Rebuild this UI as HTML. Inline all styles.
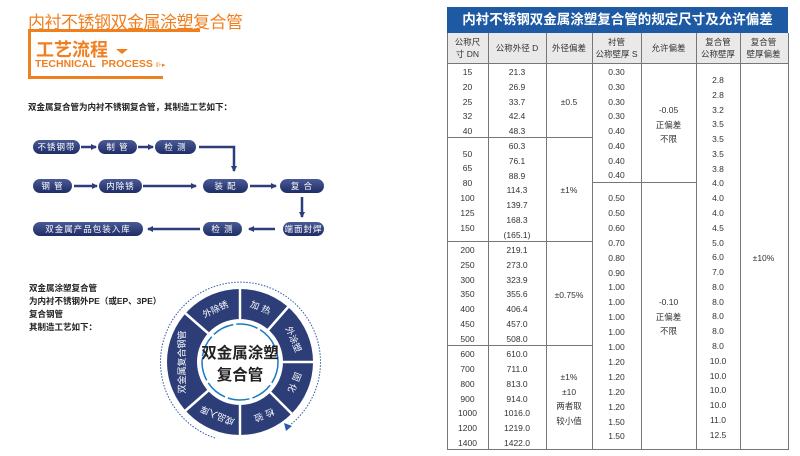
<!DOCTYPE html>
<html><head><meta charset="utf-8"><style>
body{margin:0;width:800px;height:456px;background:#fff;position:relative;overflow:hidden;font-family:"Liberation Sans","Noto Sans CJK SC",sans-serif}
.a{position:absolute;white-space:nowrap}
.pill{position:absolute;height:14px;border-radius:7px;background:linear-gradient(#4a5a95,#1f2d66);color:#fff;font-size:8.5px;line-height:14px;text-align:center;letter-spacing:1px}
.t{position:absolute;font-size:8.5px;color:#333;text-align:center;transform:translateY(-50%)}
.vl{position:absolute;width:1px;background:#777}
.hl{position:absolute;height:1px;background:#777}
</style></head><body>
<div class="a" style="left:28px;top:8px;font-size:17px;color:#f07f1f;letter-spacing:-0.5px">内衬不锈钢双金属涂塑复合管</div>
<div class="a" style="left:28px;top:29px;width:172px;height:3px;background:#f07f1f"></div>
<div class="a" style="left:28px;top:29px;width:3px;height:50px;background:#f07f1f"></div>
<div class="a" style="left:28px;top:76px;width:135px;height:3px;background:#f07f1f"></div>
<div class="a" style="left:36px;top:36px;font-size:18px;font-weight:bold;color:#f07f1f">工艺流程</div>
<div class="a" style="left:116px;top:49px;width:0;height:0;border-left:6px solid transparent;border-right:6px solid transparent;border-top:5px solid #f07f1f"></div>
<div class="a" style="left:35px;top:58px;font-size:10.5px;font-weight:bold;color:#f07f1f">TECHNICAL&nbsp; PROCESS <span style="font-size:7px;font-weight:normal">⊪▸</span></div>
<div class="a" style="left:28px;top:101px;font-size:8.5px;font-weight:bold;color:#222">双金属复合管为内衬不锈钢复合管，其制造工艺如下：</div>

<div class="pill" style="left:33px;top:140px;width:47px">不锈钢带</div>
<div class="pill" style="left:98px;top:140px;width:39px">制 管</div>
<div class="pill" style="left:155px;top:140px;width:41px">检 测</div>
<div class="pill" style="left:33px;top:179px;width:39px">钢 管</div>
<div class="pill" style="left:99px;top:179px;width:43px">内除锈</div>
<div class="pill" style="left:203px;top:179px;width:45px">装 配</div>
<div class="pill" style="left:280px;top:179px;width:44px">复 合</div>
<div class="pill" style="left:33px;top:222px;width:110px">双金属产品包装入库</div>
<div class="pill" style="left:203px;top:222px;width:39px">检 测</div>
<div class="pill" style="left:283px;top:222px;width:41px">端面封焊</div>

<svg class="a" style="left:0;top:0" width="440" height="456">
<defs><marker id="m" markerWidth="6" markerHeight="6" refX="5" refY="3" orient="auto" markerUnits="userSpaceOnUse"><path d="M0,0L6,3L0,6z" fill="#2c3d7a"/></marker></defs>
<g stroke="#2c3d7a" stroke-width="2.5" fill="none" marker-end="url(#m)">
<line x1="81" y1="147" x2="96" y2="147"/>
<line x1="138" y1="147" x2="153" y2="147"/>
<polyline points="199,147 234,147 234,171"/>
<line x1="74" y1="186" x2="97" y2="186"/>
<line x1="143" y1="186" x2="196" y2="186"/>
<line x1="250" y1="186" x2="276" y2="186"/>
<line x1="302" y1="197" x2="302" y2="217"/>
<line x1="275" y1="229" x2="249" y2="229"/>
<line x1="200" y1="229" x2="148" y2="229"/>
</g>
<g transform="translate(240,362)">
<path d="M-25,76 A80,80 0 1 1 50,63" fill="none" stroke="#2a5aa8" stroke-width="1" stroke-dasharray="1.5,1.5"/>
<path d="M44,61 L52,64 L46,69z" fill="#2a5aa8"/>
<circle r="73" fill="#2c3d78"/>
<circle r="43" fill="#fff"/>
<circle r="38" fill="none" stroke="#1a7ac0" stroke-width="1.5" stroke-dasharray="22,3"/>
<g stroke="#fff" stroke-width="2.5">
<line x1="0" y1="-42" x2="0" y2="-74"/>
<line x1="28" y1="-32" x2="49" y2="-56"/>
<line x1="42" y1="0" x2="74" y2="0"/>
<line x1="30" y1="30" x2="53" y2="53"/>
<line x1="0" y1="42" x2="0" y2="74"/>
<line x1="-31" y1="28" x2="-55" y2="49"/>
<line x1="-31" y1="-28" x2="-55" y2="-49"/>
</g>
<g fill="#fff" font-size="9" text-anchor="middle" font-family="Liberation Sans,Noto Sans CJK SC,sans-serif">
<text transform="rotate(-25) translate(0,-55)">外除锈</text>
<text transform="rotate(22) translate(0,-55)" letter-spacing="3">加热</text>
<text transform="rotate(67) translate(0,-55)">外涂塑</text>
<text transform="rotate(112) translate(0,-55)" letter-spacing="3">固化</text>
<text transform="rotate(157) translate(0,-55)" letter-spacing="3">检验</text>
<text transform="rotate(203) translate(0,-55)">成品入库</text>
<text transform="rotate(-90) translate(0,-55)">双金属复合钢管</text>
</g>
<text x="0" y="-4" text-anchor="middle" font-size="15.5" font-weight="bold" fill="#222" font-family="Liberation Sans,Noto Sans CJK SC,sans-serif">双金属涂塑</text>
<text x="0" y="18" text-anchor="middle" font-size="15.5" font-weight="bold" fill="#222" font-family="Liberation Sans,Noto Sans CJK SC,sans-serif">复合管</text>
</g>
</svg>
<div class="a" style="left:29px;top:282px;font-size:8.5px;font-weight:bold;color:#222;line-height:13px">双金属涂塑复合管<br>为内衬不锈钢外PE（或EP、3PE）<br>复合钢管<br>其制造工艺如下：</div>

<div class="a" style="left:447px;top:7px;width:341px;height:26px;background:#1d5aa3;color:#fff;font-weight:bold;font-size:13.5px;line-height:26px;text-align:center">内衬不锈钢双金属涂塑复合管的规定尺寸及允许偏差</div>
<div class="a" style="left:447px;top:33px;width:341px;height:30px;background:#e9e9e9"></div>
<div class="a" style="left:447px;top:33px;width:340px;height:416px;border:1px solid #777;border-top:none"></div>
<div class="hl" style="left:447px;top:63px;width:341px"></div>
<div class="vl" style="left:488px;top:33px;height:416px"></div>
<div class="vl" style="left:546px;top:33px;height:416px"></div>
<div class="vl" style="left:592px;top:33px;height:416px"></div>
<div class="vl" style="left:641px;top:33px;height:416px"></div>
<div class="vl" style="left:696px;top:33px;height:416px"></div>
<div class="vl" style="left:740px;top:33px;height:416px"></div>
<div class="hl" style="left:447px;top:137px;width:145px"></div>
<div class="hl" style="left:447px;top:241px;width:145px"></div>
<div class="hl" style="left:447px;top:345px;width:145px"></div>
<div class="hl" style="left:592px;top:182px;width:104px"></div>
<div id="T"></div>
<script>
var h='';function t(x,w,y,s){h+='<div class="t" style="left:'+x+'px;width:'+w+'px;top:'+y+'px">'+s+'</div>';}
t(447,41,48,'公称尺<br>寸 DN');t(488,58,48,'公称外径 D');t(546,46,48,'外径偏差');t(592,49,48,'衬管<br>公称壁厚 S');t(641,55,48,'允许偏差');t(696,44,48,'复合管<br>公称壁厚');t(740,47,48,'复合管<br>壁厚偏差');
var c1=[['15',72],['20',87],['25',102],['32',116],['40',131],['50',154],['65',168],['80',183],['100',198],['125',213],['150',228],['200',250],['250',265],['300',280],['350',294],['400',309],['450',324],['500',339],['600',354],['700',369],['800',384],['900',399],['1000',413],['1200',428],['1400',443]];
c1.forEach(function(a){t(447,41,a[1],a[0]);});
var c2=[['21.3',72],['26.9',87],['33.7',102],['42.4',116],['48.3',131],['60.3',146],['76.1',161],['88.9',176],['114.3',190],['139.7',205],['168.3',220],['(165.1)',235],['219.1',250],['273.0',265],['323.9',280],['355.6',294],['406.4',309],['457.0',324],['508.0',339],['610.0',354],['711.0',369],['813.0',384],['914.0',399],['1016.0',413],['1219.0',428],['1422.0',443]];
c2.forEach(function(a){t(488,58,a[1],a[0]);});
[['±0.5',102],['±1%',190],['±0.75%',295],['±1%',377],['±10',392],['两者取',406],['较小值',421]].forEach(function(a){t(546,46,a[1],a[0]);});
var s=['0.30','0.30','0.30','0.30','0.40','0.40','0.40','0.40'];s.forEach(function(v,i){t(592,49,72+i*14.75,v);});
var s2=['0.50','0.50','0.60','0.70','0.80','0.90','1.00','1.00','1.00','1.00','1.00','1.20','1.20','1.20','1.20','1.50','1.50'];s2.forEach(function(v,i){t(592,49,198+i*14.9,v);});
[['-0.05',110],['正偏差',125],['不限',139],['-0.10',302],['正偏差',317],['不限',331]].forEach(function(a){t(641,55,a[1],a[0]);});
var w=['2.8','2.8','3.2','3.5','3.5','3.5','3.8','4.0','4.0','4.0','4.5','5.0','6.0','7.0','8.0','8.0','8.0','8.0','8.0','10.0','10.0','10.0','10.0','11.0','12.5'];w.forEach(function(v,i){t(696,44,80+i*14.78,v);});
t(740,47,258,'±10%');
document.getElementById('T').innerHTML=h;
</script>
</body></html>
